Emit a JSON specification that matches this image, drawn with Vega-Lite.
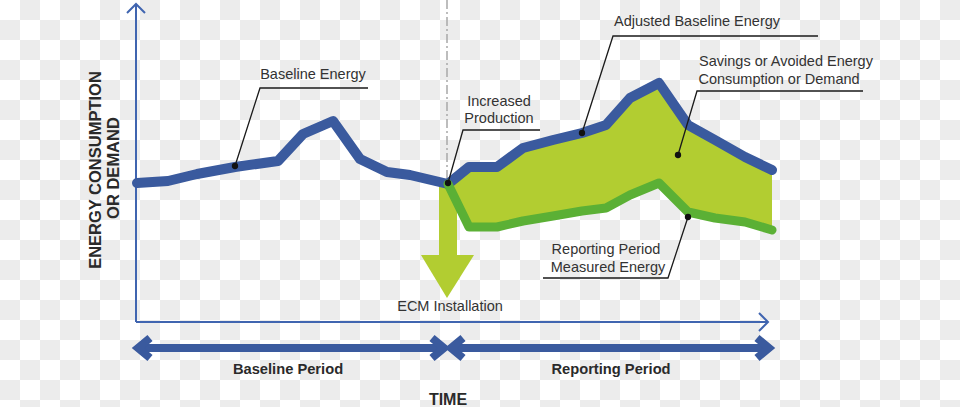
{
  "$schema": "https://vega.github.io/schema/vega-lite/v6.json",
  "width": 960,
  "height": 407,
  "autosize": {"type": "none"},
  "padding": 0,
  "background": "white",
  "config": {"view": {"stroke": null}, "text": {"font": "Liberation Sans"}},
  "datasets": {
    "checkA": [
      {"r": 0, "y": 10}, {"r": 2, "y": 50}, {"r": 4, "y": 90}, {"r": 6, "y": 130},
      {"r": 8, "y": 170}, {"r": 10, "y": 210}, {"r": 12, "y": 250}, {"r": 14, "y": 290},
      {"r": 16, "y": 330}, {"r": 18, "y": 370}, {"r": 20, "y": 410}
    ],
    "checkB": [
      {"r": 1, "y": 30}, {"r": 3, "y": 70}, {"r": 5, "y": 110}, {"r": 7, "y": 150},
      {"r": 9, "y": 190}, {"r": 11, "y": 230}, {"r": 13, "y": 270}, {"r": 15, "y": 310},
      {"r": 17, "y": 350}, {"r": 19, "y": 390}
    ],
    "axes": [
      {"seg": "yaxis", "o": 1, "x": 136, "y": 322},
      {"seg": "yaxis", "o": 2, "x": 136, "y": 4},
      {"seg": "yhead", "o": 1, "x": 127, "y": 13},
      {"seg": "yhead", "o": 2, "x": 136, "y": 4},
      {"seg": "yhead", "o": 3, "x": 145, "y": 13},
      {"seg": "xaxis", "o": 1, "x": 136, "y": 322},
      {"seg": "xaxis", "o": 2, "x": 767, "y": 322},
      {"seg": "xhead", "o": 1, "x": 759, "y": 313},
      {"seg": "xhead", "o": 2, "x": 768, "y": 322},
      {"seg": "xhead", "o": 3, "x": 759, "y": 331}
    ],
    "dash": [
      {"o": 1, "x": 447, "y": 0},
      {"o": 2, "x": 447, "y": 184}
    ],
    "base": [
      {"x": 137, "y": 183},
      {"x": 168, "y": 181},
      {"x": 197, "y": 174},
      {"x": 235, "y": 167},
      {"x": 278, "y": 161},
      {"x": 303, "y": 134},
      {"x": 333, "y": 121},
      {"x": 360, "y": 159},
      {"x": 387, "y": 172},
      {"x": 410, "y": 175},
      {"x": 448, "y": 184}
    ],
    "rep": [
      {"x": 448, "adj": 184, "meas": 184},
      {"x": 469, "adj": 167, "meas": 227},
      {"x": 497, "adj": 167, "meas": 227},
      {"x": 523, "adj": 148, "meas": 221},
      {"x": 553, "adj": 140, "meas": 216},
      {"x": 582, "adj": 133, "meas": 211},
      {"x": 606, "adj": 125, "meas": 208},
      {"x": 630, "adj": 98, "meas": 195},
      {"x": 659, "adj": 83, "meas": 183},
      {"x": 688, "adj": 125, "meas": 212},
      {"x": 715, "adj": 140, "meas": 218},
      {"x": 745, "adj": 157, "meas": 222},
      {"x": 772, "adj": 170, "meas": 230}
    ],
    "shaft": [{"x": 439, "x2": 457, "y": 184, "y2": 256}],
    "head": [
      {"x": 421, "y": 255, "y2": 255},
      {"x": 447, "y": 255, "y2": 298},
      {"x": 474, "y": 255, "y2": 255}
    ],
    "leaders": [
      {"seg": "a", "o": 1, "x": 368, "y": 88},
      {"seg": "a", "o": 2, "x": 260, "y": 88},
      {"seg": "a", "o": 3, "x": 235, "y": 166},
      {"seg": "b", "o": 1, "x": 540, "y": 130},
      {"seg": "b", "o": 2, "x": 463, "y": 130},
      {"seg": "b", "o": 3, "x": 448, "y": 183},
      {"seg": "c", "o": 1, "x": 818, "y": 36},
      {"seg": "c", "o": 2, "x": 613, "y": 36},
      {"seg": "c", "o": 3, "x": 582, "y": 133},
      {"seg": "d", "o": 1, "x": 863, "y": 91},
      {"seg": "d", "o": 2, "x": 697, "y": 91},
      {"seg": "d", "o": 3, "x": 678, "y": 155},
      {"seg": "e", "o": 1, "x": 543, "y": 278},
      {"seg": "e", "o": 2, "x": 668, "y": 278},
      {"seg": "e", "o": 3, "x": 688, "y": 217}
    ],
    "dots": [
      {"x": 235, "y": 166},
      {"x": 448, "y": 183},
      {"x": 582, "y": 133},
      {"x": 678, "y": 155},
      {"x": 688, "y": 217}
    ],
    "periods": [
      {"seg": "s1", "o": 1, "x": 140, "y": 348},
      {"seg": "s1", "o": 2, "x": 442, "y": 348},
      {"seg": "h1", "o": 1, "x": 150, "y": 338},
      {"seg": "h1", "o": 2, "x": 138, "y": 348},
      {"seg": "h1", "o": 3, "x": 150, "y": 358},
      {"seg": "h2", "o": 1, "x": 432, "y": 338},
      {"seg": "h2", "o": 2, "x": 444, "y": 348},
      {"seg": "h2", "o": 3, "x": 432, "y": 358},
      {"seg": "s2", "o": 1, "x": 454, "y": 348},
      {"seg": "s2", "o": 2, "x": 767, "y": 348},
      {"seg": "h3", "o": 1, "x": 463, "y": 338},
      {"seg": "h3", "o": 2, "x": 451, "y": 348},
      {"seg": "h3", "o": 3, "x": 463, "y": 358},
      {"seg": "h4", "o": 1, "x": 757, "y": 338},
      {"seg": "h4", "o": 2, "x": 769, "y": 348},
      {"seg": "h4", "o": 3, "x": 757, "y": 358}
    ],
    "labels": [
      {"x": 313, "y": 75, "t": "Baseline Energy"},
      {"x": 499, "y": 102, "t": "Increased"},
      {"x": 499, "y": 119, "t": "Production"},
      {"x": 697, "y": 22, "t": "Adjusted Baseline Energy"},
      {"x": 786, "y": 62, "t": "Savings or Avoided Energy"},
      {"x": 779, "y": 80, "t": "Consumption or Demand"},
      {"x": 606, "y": 250, "t": "Reporting Period"},
      {"x": 608, "y": 268, "t": "Measured Energy"},
      {"x": 450, "y": 307, "t": "ECM Installation"}
    ],
    "periodLabels": [
      {"x": 288, "y": 370, "t": "Baseline Period"},
      {"x": 611, "y": 370, "t": "Reporting Period"}
    ],
    "timeLabel": [{"x": 448, "y": 400, "t": "TIME"}],
    "yLabel": [
      {"x": 96, "y": 170, "t": "ENERGY CONSUMPTION"},
      {"x": 114, "y": 168, "t": "OR DEMAND"}
    ]
  },
  "layer": [
    {
      "data": {"name": "checkA"},
      "mark": {"type": "rule", "stroke": "#ececec", "strokeWidth": 20, "strokeDash": [20, 20], "strokeDashOffset": 20, "strokeCap": "butt"},
      "encoding": {
        "x": {"datum": 0, "type": "quantitative", "scale": {"domain": [0, 960], "nice": false, "zero": false}, "axis": null},
        "x2": {"datum": 960},
        "y": {"field": "y", "type": "quantitative", "scale": {"domain": [0, 407], "reverse": true, "nice": false, "zero": false}, "axis": null}
      }
    },
    {
      "data": {"name": "checkB"},
      "mark": {"type": "rule", "stroke": "#ececec", "strokeWidth": 20, "strokeDash": [20, 20], "strokeDashOffset": 0, "strokeCap": "butt"},
      "encoding": {
        "x": {"datum": 0, "type": "quantitative"},
        "x2": {"datum": 960},
        "y": {"field": "y", "type": "quantitative"}
      }
    },
    {
      "data": {"name": "dash"},
      "mark": {"type": "line", "stroke": "#a8a8a8", "strokeWidth": 1.5, "strokeDash": [9, 3, 2, 3]},
      "encoding": {
        "x": {"field": "x", "type": "quantitative"},
        "y": {"field": "y", "type": "quantitative"},
        "order": {"field": "o"}
      }
    },
    {
      "data": {"name": "axes"},
      "mark": {"type": "line", "stroke": "#4065b0", "strokeWidth": 2, "strokeJoin": "miter"},
      "encoding": {
        "x": {"field": "x", "type": "quantitative"},
        "y": {"field": "y", "type": "quantitative"},
        "detail": {"field": "seg"},
        "order": {"field": "o"}
      }
    },
    {
      "data": {"name": "shaft"},
      "mark": {"type": "rect", "fill": "#b2cd31"},
      "encoding": {
        "x": {"field": "x", "type": "quantitative"},
        "x2": {"field": "x2"},
        "y": {"field": "y", "type": "quantitative"},
        "y2": {"field": "y2"}
      }
    },
    {
      "data": {"name": "head"},
      "mark": {"type": "area", "fill": "#b2cd31", "orient": "vertical"},
      "encoding": {
        "x": {"field": "x", "type": "quantitative"},
        "y": {"field": "y", "type": "quantitative"},
        "y2": {"field": "y2"}
      }
    },
    {
      "data": {"name": "rep"},
      "mark": {"type": "area", "fill": "#b2cd31", "orient": "vertical"},
      "encoding": {
        "x": {"field": "x", "type": "quantitative"},
        "y": {"field": "adj", "type": "quantitative"},
        "y2": {"field": "meas"}
      }
    },
    {
      "data": {"name": "base"},
      "mark": {"type": "line", "stroke": "#3a5a9e", "strokeWidth": 10, "strokeJoin": "round", "strokeCap": "round"},
      "encoding": {
        "x": {"field": "x", "type": "quantitative"},
        "y": {"field": "y", "type": "quantitative"}
      }
    },
    {
      "data": {"name": "rep"},
      "mark": {"type": "line", "stroke": "#3a5a9e", "strokeWidth": 10, "strokeJoin": "round", "strokeCap": "round"},
      "encoding": {
        "x": {"field": "x", "type": "quantitative"},
        "y": {"field": "adj", "type": "quantitative"}
      }
    },
    {
      "data": {"name": "rep"},
      "mark": {"type": "line", "stroke": "#5bb035", "strokeWidth": 9, "strokeJoin": "round", "strokeCap": "round"},
      "encoding": {
        "x": {"field": "x", "type": "quantitative"},
        "y": {"field": "meas", "type": "quantitative"}
      }
    },
    {
      "data": {"name": "leaders"},
      "mark": {"type": "line", "stroke": "#1a1a1a", "strokeWidth": 1.3},
      "encoding": {
        "x": {"field": "x", "type": "quantitative"},
        "y": {"field": "y", "type": "quantitative"},
        "detail": {"field": "seg"},
        "order": {"field": "o"}
      }
    },
    {
      "data": {"name": "dots"},
      "mark": {"type": "point", "filled": true, "fill": "#111111", "size": 40, "opacity": 1, "strokeWidth": 0},
      "encoding": {
        "x": {"field": "x", "type": "quantitative"},
        "y": {"field": "y", "type": "quantitative"}
      }
    },
    {
      "data": {"name": "periods"},
      "mark": {"type": "line", "stroke": "#3a5a9e", "strokeWidth": 8, "strokeJoin": "miter", "strokeCap": "butt"},
      "encoding": {
        "x": {"field": "x", "type": "quantitative"},
        "y": {"field": "y", "type": "quantitative"},
        "detail": {"field": "seg"},
        "order": {"field": "o"}
      }
    },
    {
      "data": {"name": "labels"},
      "mark": {"type": "text", "fontSize": 14.5, "fill": "#333333", "align": "center", "baseline": "middle"},
      "encoding": {
        "x": {"field": "x", "type": "quantitative"},
        "y": {"field": "y", "type": "quantitative"},
        "text": {"field": "t"}
      }
    },
    {
      "data": {"name": "periodLabels"},
      "mark": {"type": "text", "fontSize": 14.7, "fontWeight": "bold", "fill": "#2a2a2a", "align": "center", "baseline": "middle"},
      "encoding": {
        "x": {"field": "x", "type": "quantitative"},
        "y": {"field": "y", "type": "quantitative"},
        "text": {"field": "t"}
      }
    },
    {
      "data": {"name": "timeLabel"},
      "mark": {"type": "text", "fontSize": 16, "fontWeight": "bold", "fill": "#2a2a2a", "align": "center", "baseline": "middle"},
      "encoding": {
        "x": {"field": "x", "type": "quantitative"},
        "y": {"field": "y", "type": "quantitative"},
        "text": {"field": "t"}
      }
    },
    {
      "data": {"name": "yLabel"},
      "mark": {"type": "text", "fontSize": 16.5, "fontWeight": "bold", "fill": "#2a2a2a", "align": "center", "baseline": "middle", "angle": 270},
      "encoding": {
        "x": {"field": "x", "type": "quantitative"},
        "y": {"field": "y", "type": "quantitative"},
        "text": {"field": "t"}
      }
    }
  ]
}
